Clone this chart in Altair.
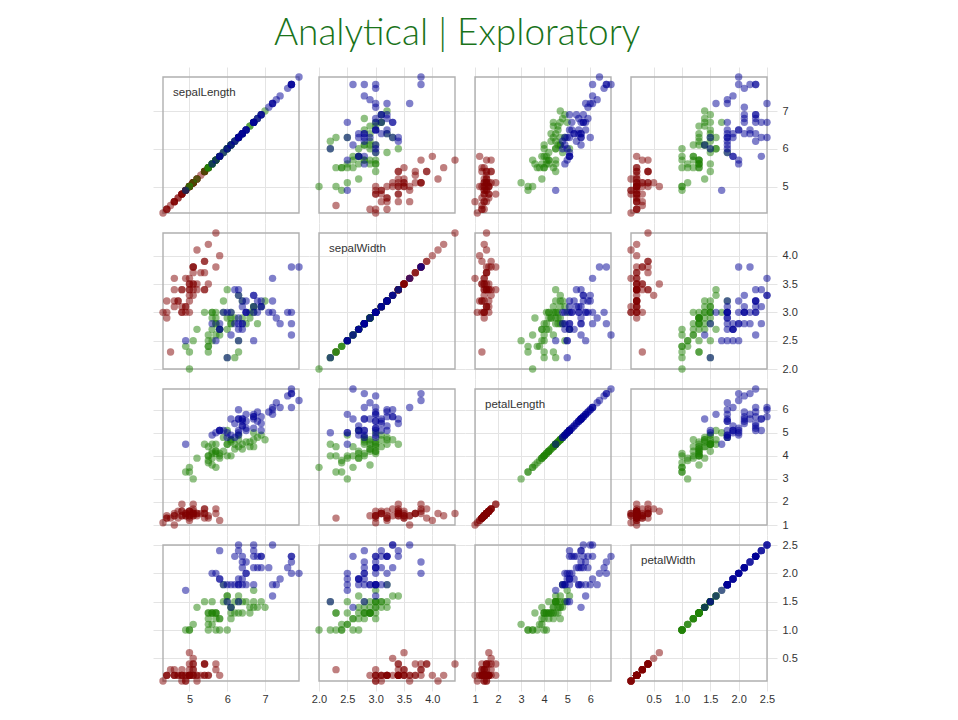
import altair as alt
import pandas as pd

# Iris measurements (150 flowers)
sepal_length = [
    5.1, 4.9, 4.7, 4.6, 5.0, 5.4, 4.6, 5.0, 4.4, 4.9, 5.4, 4.8, 4.8, 4.3, 5.8, 5.7, 5.4, 5.1, 5.7, 5.1,
    5.4, 5.1, 4.6, 5.1, 4.8, 5.0, 5.0, 5.2, 5.2, 4.7, 4.8, 5.4, 5.2, 5.5, 4.9, 5.0, 5.5, 4.9, 4.4, 5.1,
    5.0, 4.5, 4.4, 5.0, 5.1, 4.8, 5.1, 4.6, 5.3, 5.0,
    7.0, 6.4, 6.9, 5.5, 6.5, 5.7, 6.3, 4.9, 6.6, 5.2, 5.0, 5.9, 6.0, 6.1, 5.6, 6.7, 5.6, 5.8, 6.2, 5.6,
    5.9, 6.1, 6.3, 6.1, 6.4, 6.6, 6.8, 6.7, 6.0, 5.7, 5.5, 5.5, 5.8, 6.0, 5.4, 6.0, 6.7, 6.3, 5.6, 5.5,
    5.5, 6.1, 5.8, 5.0, 5.6, 5.7, 5.7, 6.2, 5.1, 5.7,
    6.3, 5.8, 7.1, 6.3, 6.5, 7.6, 4.9, 7.3, 6.7, 7.2, 6.5, 6.4, 6.8, 5.7, 5.8, 6.4, 6.5, 7.7, 7.7, 6.0,
    6.9, 5.6, 7.7, 6.3, 6.7, 7.2, 6.2, 6.1, 6.4, 7.2, 7.4, 7.9, 6.4, 6.3, 6.1, 7.7, 6.3, 6.4, 6.0, 6.9,
    6.7, 6.9, 5.8, 6.8, 6.7, 6.7, 6.3, 6.5, 6.2, 5.9,
]
sepal_width = [
    3.5, 3.0, 3.2, 3.1, 3.6, 3.9, 3.4, 3.4, 2.9, 3.1, 3.7, 3.4, 3.0, 3.0, 4.0, 4.4, 3.9, 3.5, 3.8, 3.8,
    3.4, 3.7, 3.6, 3.3, 3.4, 3.0, 3.4, 3.5, 3.4, 3.2, 3.1, 3.4, 4.1, 4.2, 3.1, 3.2, 3.5, 3.6, 3.0, 3.4,
    3.5, 2.3, 3.2, 3.5, 3.8, 3.0, 3.8, 3.2, 3.7, 3.3,
    3.2, 3.2, 3.1, 2.3, 2.8, 2.8, 3.3, 2.4, 2.9, 2.7, 2.0, 3.0, 2.2, 2.9, 2.9, 3.1, 3.0, 2.7, 2.2, 2.5,
    3.2, 2.8, 2.5, 2.8, 2.9, 3.0, 2.8, 3.0, 2.9, 2.6, 2.4, 2.4, 2.7, 2.7, 3.0, 3.4, 3.1, 2.3, 3.0, 2.5,
    2.6, 3.0, 2.6, 2.3, 2.7, 3.0, 2.9, 2.9, 2.5, 2.8,
    3.3, 2.7, 3.0, 2.9, 3.0, 3.0, 2.5, 2.9, 2.5, 3.6, 3.2, 2.7, 3.0, 2.5, 2.8, 3.2, 3.0, 3.8, 2.6, 2.2,
    3.2, 2.8, 2.8, 2.7, 3.3, 3.2, 2.8, 3.0, 2.8, 3.0, 2.8, 3.8, 2.8, 2.8, 2.6, 3.0, 3.4, 3.1, 3.0, 3.1,
    3.1, 3.1, 2.7, 3.2, 3.3, 3.0, 2.5, 3.0, 3.4, 3.0,
]
petal_length = [
    1.4, 1.4, 1.3, 1.5, 1.4, 1.7, 1.4, 1.5, 1.4, 1.5, 1.5, 1.6, 1.4, 1.1, 1.2, 1.5, 1.3, 1.4, 1.7, 1.5,
    1.7, 1.5, 1.0, 1.7, 1.9, 1.6, 1.6, 1.5, 1.4, 1.6, 1.6, 1.5, 1.5, 1.4, 1.5, 1.2, 1.3, 1.4, 1.3, 1.5,
    1.3, 1.3, 1.3, 1.6, 1.9, 1.4, 1.6, 1.4, 1.5, 1.4,
    4.7, 4.5, 4.9, 4.0, 4.6, 4.5, 4.7, 3.3, 4.6, 3.9, 3.5, 4.2, 4.0, 4.7, 3.6, 4.4, 4.5, 4.1, 4.5, 3.9,
    4.8, 4.0, 4.9, 4.7, 4.3, 4.4, 4.8, 5.0, 4.5, 3.5, 3.8, 3.7, 3.9, 5.1, 4.5, 4.5, 4.7, 4.4, 4.1, 4.0,
    4.4, 4.6, 4.0, 3.3, 4.2, 4.2, 4.2, 4.3, 3.0, 4.1,
    6.0, 5.1, 5.9, 5.6, 5.8, 6.6, 4.5, 6.3, 5.8, 6.1, 5.1, 5.3, 5.5, 5.0, 5.1, 5.3, 5.5, 6.7, 6.9, 5.0,
    5.7, 4.9, 6.7, 4.9, 5.7, 6.0, 4.8, 4.9, 5.6, 5.8, 6.1, 6.4, 5.6, 5.1, 5.6, 6.1, 5.6, 5.5, 4.8, 5.4,
    5.6, 5.1, 5.1, 5.9, 5.7, 5.2, 5.0, 5.2, 5.4, 5.1,
]
petal_width = [
    0.2, 0.2, 0.2, 0.2, 0.2, 0.4, 0.3, 0.2, 0.2, 0.1, 0.2, 0.2, 0.1, 0.1, 0.2, 0.4, 0.4, 0.3, 0.3, 0.3,
    0.2, 0.4, 0.2, 0.5, 0.2, 0.2, 0.4, 0.2, 0.2, 0.2, 0.2, 0.4, 0.1, 0.2, 0.2, 0.2, 0.2, 0.1, 0.2, 0.2,
    0.3, 0.3, 0.2, 0.6, 0.4, 0.3, 0.2, 0.2, 0.2, 0.2,
    1.4, 1.5, 1.5, 1.3, 1.5, 1.3, 1.6, 1.0, 1.3, 1.4, 1.0, 1.5, 1.0, 1.4, 1.3, 1.4, 1.5, 1.0, 1.5, 1.1,
    1.8, 1.3, 1.5, 1.2, 1.3, 1.4, 1.4, 1.7, 1.5, 1.0, 1.1, 1.0, 1.2, 1.6, 1.5, 1.6, 1.5, 1.3, 1.3, 1.3,
    1.2, 1.4, 1.2, 1.0, 1.3, 1.2, 1.3, 1.3, 1.1, 1.3,
    2.5, 1.9, 2.1, 1.8, 2.2, 2.1, 1.7, 1.8, 1.8, 2.5, 2.0, 1.9, 2.1, 2.0, 2.4, 2.3, 1.8, 2.2, 2.3, 1.5,
    2.3, 2.0, 2.0, 1.8, 2.1, 1.8, 1.8, 1.8, 2.1, 1.6, 1.9, 2.0, 2.2, 1.5, 1.4, 2.3, 2.4, 1.8, 1.8, 2.1,
    2.4, 2.3, 1.9, 2.3, 2.5, 2.3, 1.9, 2.0, 2.3, 1.8,
]
species_names = ["setosa", "versicolor", "virginica"]
species_counts = [50, 50, 50]
species_colors = ["#800000", "#1f8205", "#000096"]

traits = ["sepalLength", "sepalWidth", "petalLength", "petalWidth"]
trait_ticks = {
    "sepalLength": [5, 6, 7],
    "sepalWidth": [2.0, 2.5, 3.0, 3.5, 4.0],
    "petalLength": [1, 2, 3, 4, 5, 6],
    "petalWidth": [0.5, 1.0, 1.5, 2.0, 2.5],
}
trait_formats = {"sepalLength": "d", "sepalWidth": ".1f", "petalLength": "d", "petalWidth": ".1f"}
title_text = "Analytical | Exploratory"

species = []
for name, n in zip(species_names, species_counts):
    species += [name] * n

df = pd.DataFrame({
    "sepalLength": sepal_length,
    "sepalWidth": sepal_width,
    "petalLength": petal_length,
    "petalWidth": petal_width,
    "species": species,
})

CELL = 156
PAD = 10
LABEL_FONT = "Liberation Sans"


def axis_for(trait, show_labels, orient):
    common = dict(
        values=trait_ticks[trait], grid=True, ticks=False, domain=False, title=None,
        gridColor="#e4e4e4", gridWidth=1, orient=orient,
    )
    if show_labels:
        return alt.Axis(labels=True, format=trait_formats[trait], labelFont=LABEL_FONT,
                        labelFontSize=11, labelColor="#333333",
                        labelPadding=(2 if orient == "bottom" else 5),
                        labelOverlap=False, labelFlush=False, **common)
    return alt.Axis(labels=False, **common)


rows = []
for ri, ytr in enumerate(traits):
    row_charts = []
    for ci, xtr in enumerate(traits):
        xs = alt.Scale(zero=False, nice=False, padding=PAD)
        ys = alt.Scale(zero=False, nice=False, padding=PAD)
        xaxis = axis_for(xtr, ri == len(traits) - 1, "bottom")
        yaxis = axis_for(ytr, ci == len(traits) - 1, "right")

        k = f"{ri}{ci}"
        frame = alt.Chart(df).transform_aggregate(
            **{f"ax0_{k}": f"min({xtr})", f"ax1_{k}": f"max({xtr})",
               f"ay0_{k}": f"min({ytr})", f"ay1_{k}": f"max({ytr})"}
        ).mark_rect(fillOpacity=0, stroke="#b0b0b0", strokeWidth=1.4).encode(
            x=alt.X(f"ax0_{k}:Q", scale=xs, axis=xaxis),
            x2=f"ax1_{k}:Q",
            y=alt.Y(f"ay0_{k}:Q", scale=ys, axis=yaxis),
            y2=f"ay1_{k}:Q",
        )
        pts = alt.Chart(df).mark_circle(size=55, opacity=0.5).encode(
            x=alt.X(f"{xtr}:Q", scale=xs, axis=xaxis),
            y=alt.Y(f"{ytr}:Q", scale=ys, axis=yaxis),
            color=alt.Color("species:N", scale=alt.Scale(domain=species_names, range=species_colors),
                            legend=None),
        )
        layers = [frame, pts]
        if xtr == ytr:
            lab = alt.Chart(pd.DataFrame({"t": [xtr]})).mark_text(
                align="left", baseline="alphabetic", font=LABEL_FONT, fontSize=11.5, color="#333333"
            ).encode(text="t:N", x=alt.value(20), y=alt.value(29))
            layers.append(lab)
        row_charts.append(alt.layer(*layers).properties(width=CELL, height=CELL))
    rows.append(alt.hconcat(*row_charts, spacing=0))

chart = alt.vconcat(*rows, spacing=0).properties(
    title=alt.TitleParams(title_text, font="Lato", fontSize=37, fontWeight=300,
                          color="#1a731a", anchor="middle", offset=14, dx=-18),
    padding={"left": 145, "top": 7, "right": 5, "bottom": 5},
    background="white",
).configure_view(strokeWidth=0)

chart.save("out.html", embed_options={"renderer": "svg", "actions": False})
